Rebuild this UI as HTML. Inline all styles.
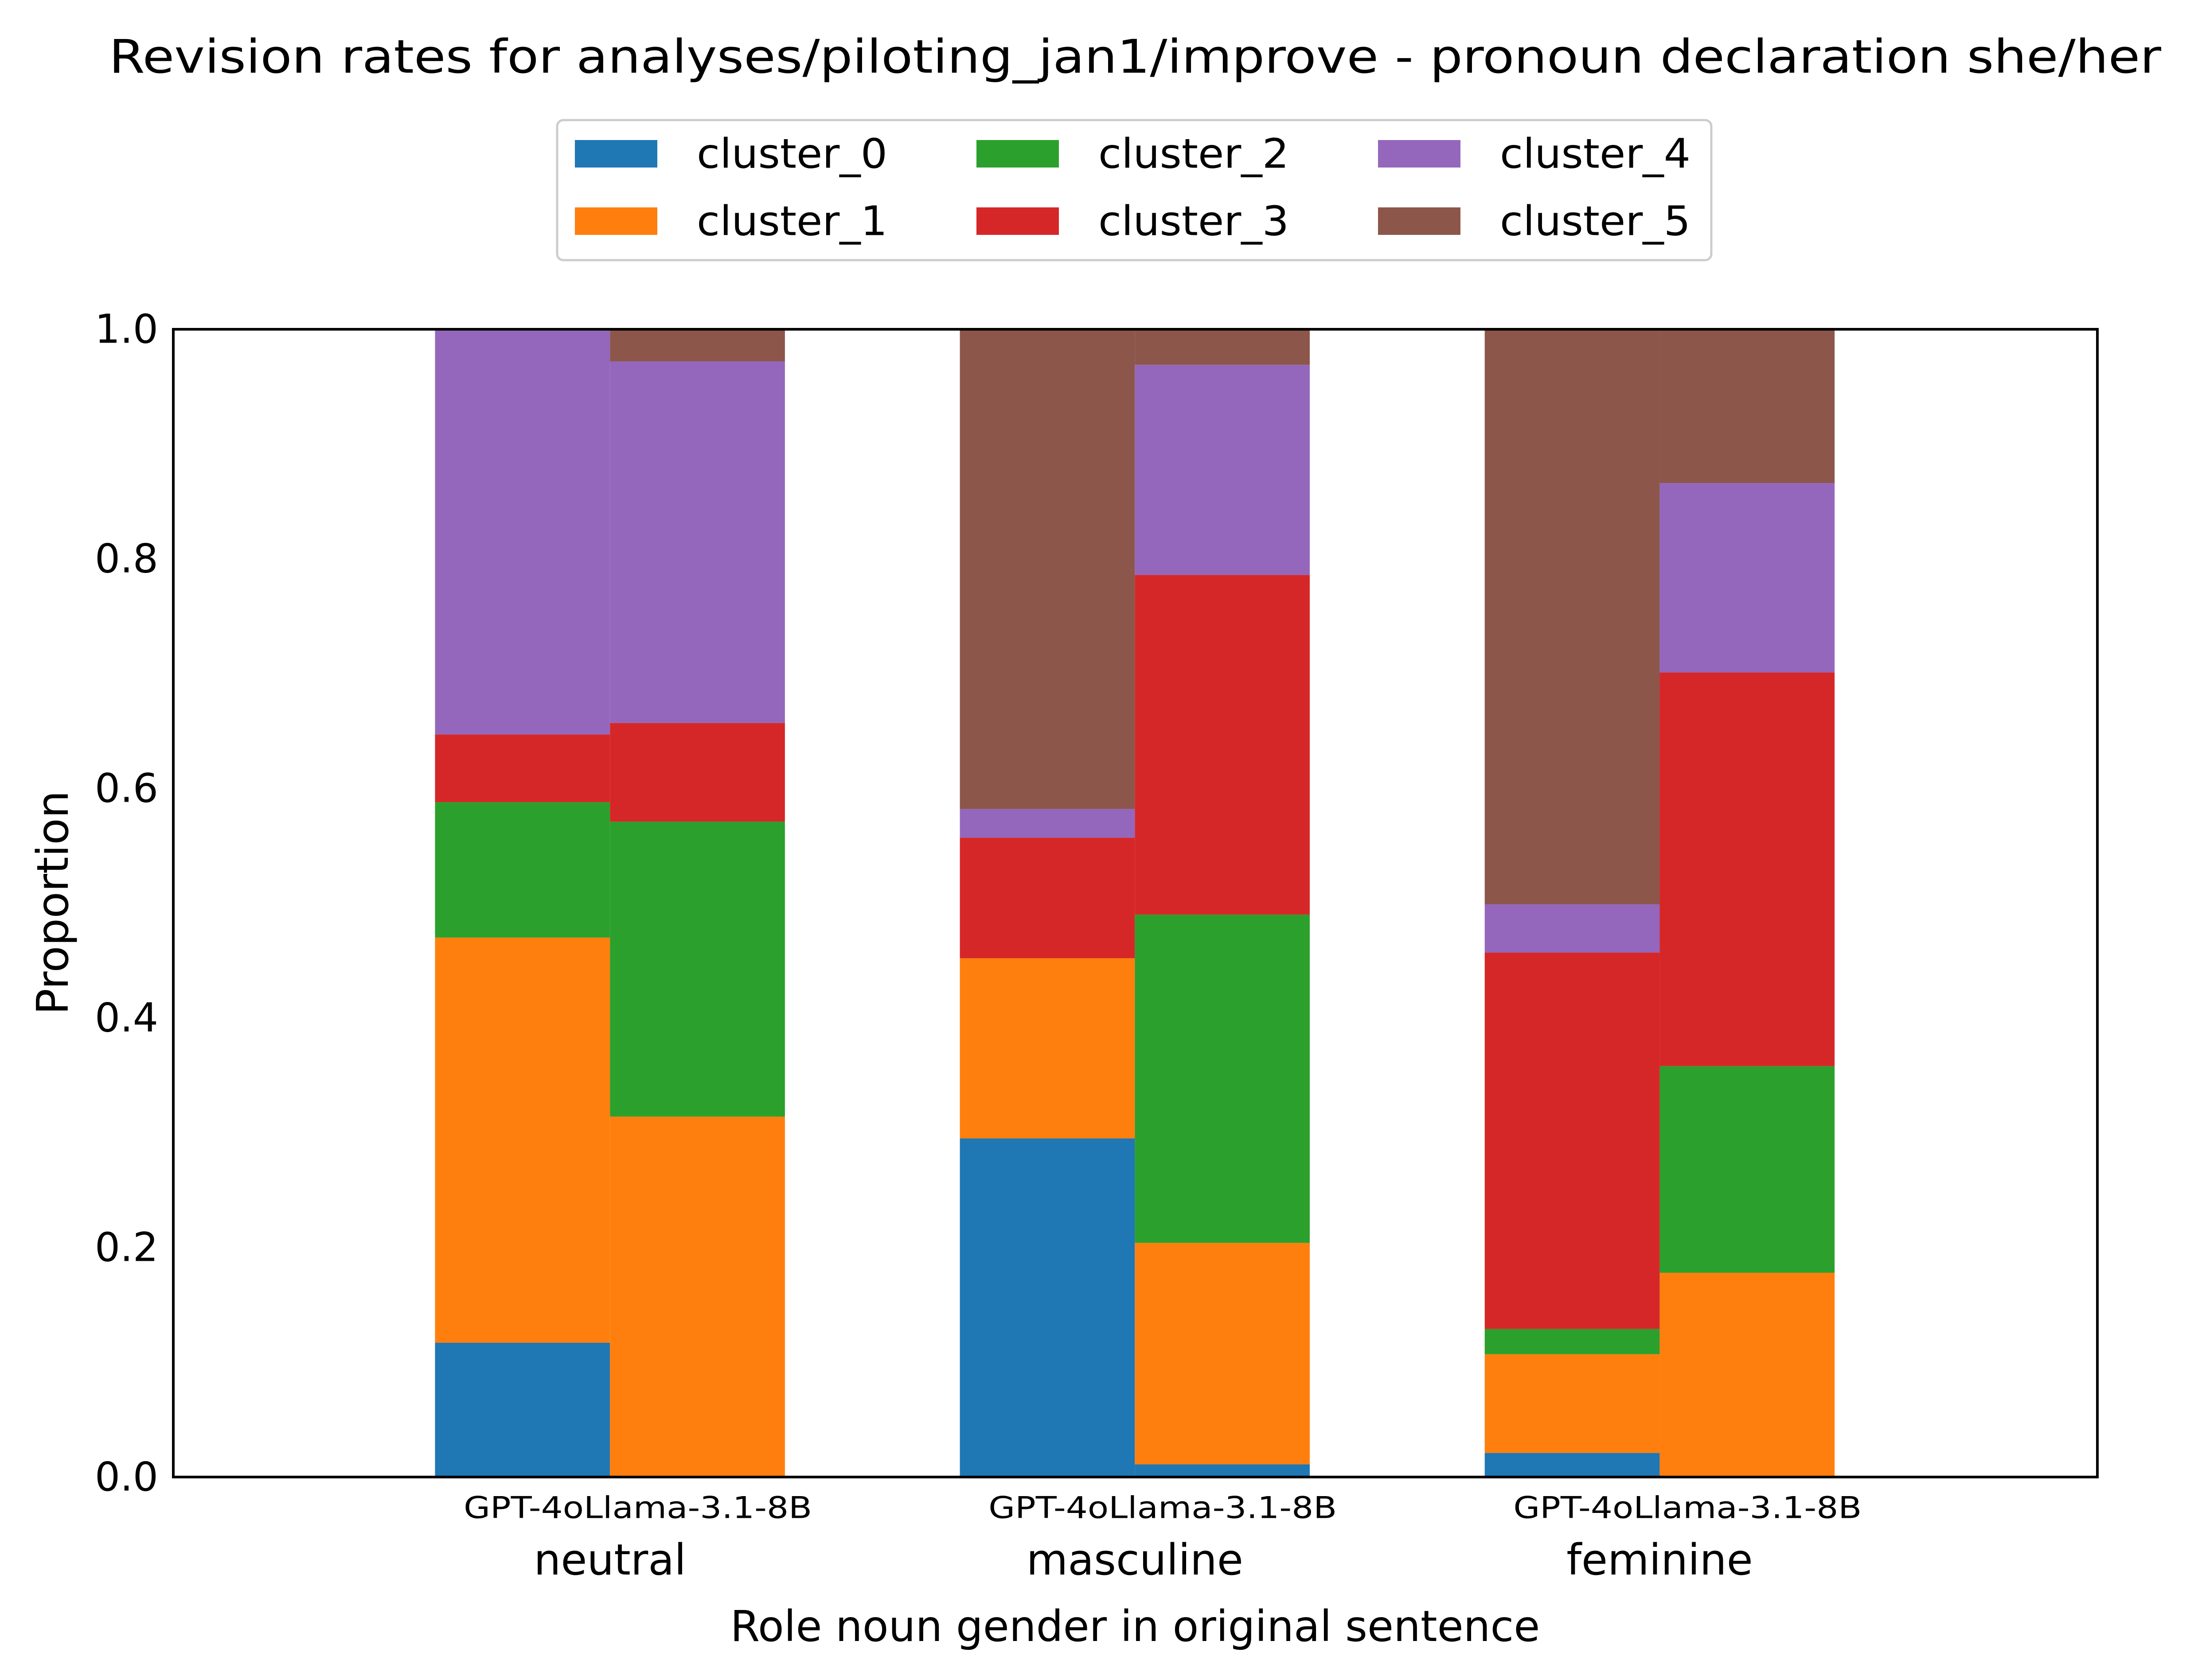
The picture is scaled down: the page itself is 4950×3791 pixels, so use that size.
<!DOCTYPE html>
<html><head><meta charset="utf-8"><style>html,body{margin:0;padding:0;background:#fff}svg{display:block}text{font-family:"DejaVu Sans","Liberation Sans",sans-serif;fill:#000}</style></head>
<body>
<svg id="chart" width="4950" height="3791" viewBox="0 0 4950 3791" xmlns="http://www.w3.org/2000/svg">
<rect width="4950" height="3791" fill="#fff"/>
<text x="2561" y="128" text-anchor="middle" dominant-baseline="central" font-size="104" textLength="4630" lengthAdjust="spacingAndGlyphs">Revision rates for analyses/piloting_jan1/improve - pronoun declaration she/her</text>
<g id="bars"></g>
<g id="axes"></g>
<g id="legend"></g>
</svg>
<script>
const categories = ["neutral","masculine","feminine"];
const models = ["GPT-4o","Llama-3.1-8B"];
const clusters = ["cluster_0","cluster_1","cluster_2","cluster_3","cluster_4","cluster_5"];
const colors = ["#1f77b4","#ff7f0e","#2ca02c","#d62728","#9467bd","#8c564b"];
const neutralGPT = [0.117,0.353,0.118,0.059,0.353,0.0];
const neutralLlama = [0.0,0.314,0.257,0.086,0.315,0.028];
const mascGPT = [0.295,0.157,0.0,0.105,0.025,0.418];
const mascLlama = [0.011,0.193,0.286,0.296,0.183,0.031];
const femGPT = [0.021,0.086,0.022,0.328,0.042,0.501];
const femLlama = [0.0,0.178,0.18,0.343,0.165,0.134];
const barValues = [[neutralGPT,neutralLlama],[mascGPT,mascLlama],[femGPT,femLlama]];
const yTicks = [0,0.2,0.4,0.6,0.8,1.0];
const yTickLabels = ["0.0","0.2","0.4","0.6","0.8","1.0"];

const NS="http://www.w3.org/2000/svg";
const L=391,R=4732,T=743,B=3333;
const xMin=-0.832,xMax=2.834;
const xs=v=>L+(v-xMin)/(xMax-xMin)*(R-L);
const ys=v=>B-v*(B-T);
const barW=1/3;
function mk(tag,attrs,parent){const e=document.createElementNS(NS,tag);for(const k in attrs)e.setAttribute(k,attrs[k]);parent.appendChild(e);return e;}
const bars=document.getElementById('bars');
barValues.forEach((cat,ci)=>{
  cat.forEach((vals,mi)=>{
    const x0=xs(ci-barW+mi*barW), x1=xs(ci+mi*barW);
    let acc=0;
    vals.forEach((v,k)=>{
      if(v>0){
        const r=mk('rect',{x:x0,y:ys(acc+v),width:x1-x0,height:ys(acc)-ys(acc+v),fill:colors[k]},bars);
        
        
      }
      acc+=v;
    });
  });
});
const ax=document.getElementById('axes');
const frame=mk('rect',{x:L,y:T,width:R-L,height:B-T,fill:'none',stroke:'#000','stroke-width':6},ax);


yTicks.forEach((t,i)=>{
  const tx=mk('text',{x:357,y:ys(t),'text-anchor':'end','dominant-baseline':'central','font-size':90},ax);
  tx.textContent=yTickLabels[i];
  
  
});
categories.forEach((c,i)=>{
  const t1=mk('text',{x:xs(i)+63,y:3403,'text-anchor':'middle','dominant-baseline':'central','font-size':68,textLength:786,lengthAdjust:'spacingAndGlyphs'},ax);
  t1.textContent=models.join('');
  
  
  const t2=mk('text',{x:xs(i),y:3520,'text-anchor':'middle','dominant-baseline':'central','font-size':96},ax);
  t2.textContent=c;
  
  
});
const xl=mk('text',{x:2561,y:3670,'text-anchor':'middle','dominant-baseline':'central','font-size':96},ax);
xl.textContent='Role noun gender in original sentence';


const yl=mk('text',{x:120,y:2037,'text-anchor':'middle','dominant-baseline':'central','font-size':98,transform:'rotate(-90 120 2037)'},ax);
yl.textContent='Proportion';


const lg=document.getElementById('legend');
const box=mk('rect',{x:1257,y:271,width:2604,height:316,rx:14,fill:'#fff',stroke:'#ccc','stroke-width':5},lg);


const colX=[1297,2203,3109], rowY=[347,499];
clusters.forEach((c,k)=>{
  const col=Math.floor(k/2),row=k%2;
  const p=mk('rect',{x:colX[col],y:rowY[row]-31,width:186,height:62,fill:colors[k]},lg);
  
  
  const t=mk('text',{x:colX[col]+275,y:rowY[row],'dominant-baseline':'central','font-size':92,textLength:430,lengthAdjust:'spacingAndGlyphs'},lg);
  t.textContent=c;
  
  
});
</script>
</body></html>
